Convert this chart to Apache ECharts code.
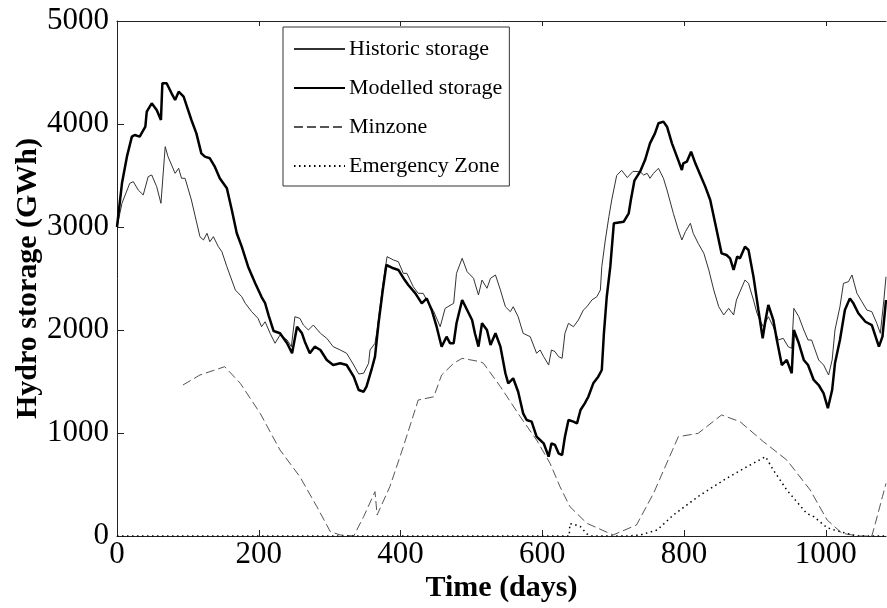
<!DOCTYPE html>
<html>
<head>
<meta charset="utf-8">
<script src="https://cdn.jsdelivr.net/npm/echarts@6/dist/echarts.min.js"></script>
<style>
  html, body { margin: 0; padding: 0; background: #fff; }
  #chart { width: 887px; height: 608px; }
</style>
</head>
<body>
<div id="chart"></div>
<script>
// x ticks (days) and y ticks (GWh)
var xTicks = [0, 200, 400, 600, 800, 1000];
var yTicks = [0, 1000, 2000, 3000, 4000, 5000];

// Historic storage
var historicDays = [0, 7, 18, 23, 30, 37, 44, 49, 56, 62, 68, 72, 82, 87, 91, 96, 105, 117, 122, 127, 131, 136, 143, 148, 155, 167, 176, 181, 190, 199, 204, 209, 216, 223, 230, 240, 246, 251, 258, 263, 270, 277, 287, 296, 305, 315, 324, 334, 341, 348, 355, 357, 364, 367, 374, 381, 390, 397, 404, 409, 418, 425, 432, 437, 447, 456, 463, 475, 479, 487, 494, 503, 510, 515, 522, 527, 534, 541, 548, 555, 559, 566, 573, 583, 592, 597, 602, 609, 613, 618, 623, 628, 632, 637, 644, 651, 658, 663, 670, 677, 682, 684, 689, 694, 698, 705, 712, 720, 728, 738, 743, 748, 752, 757, 764, 771, 776, 785, 792, 797, 802, 809, 813, 820, 828, 835, 842, 849, 856, 863, 870, 874, 879, 886, 891, 898, 903, 907, 912, 919, 926, 933, 940, 947, 952, 955, 962, 969, 975, 980, 990, 997, 1004, 1009, 1013, 1020, 1025, 1032, 1037, 1044, 1051, 1058, 1065, 1072, 1077, 1082, 1085];
var historicValues = [3000, 3230, 3424, 3440, 3359, 3311, 3489, 3505, 3391, 3230, 3780, 3683, 3521, 3570, 3473, 3473, 3262, 2906, 2874, 2939, 2857, 2906, 2809, 2760, 2615, 2388, 2323, 2259, 2178, 2113, 2032, 2080, 1968, 1871, 1951, 1903, 1838, 2129, 2113, 2048, 2000, 2048, 1968, 1919, 1838, 1806, 1774, 1660, 1573, 1580, 1677, 1806, 1871, 2000, 2388, 2712, 2680, 2663, 2550, 2550, 2420, 2356, 2356, 2291, 2178, 2032, 2210, 2259, 2550, 2696, 2566, 2502, 2340, 2485, 2405, 2502, 2534, 2388, 2226, 2178, 2226, 2129, 1968, 1935, 1774, 1806, 1741, 1660, 1806, 1790, 1741, 1725, 1968, 2065, 2032, 2097, 2194, 2226, 2291, 2323, 2388, 2615, 2874, 3100, 3262, 3500, 3550, 3480, 3540, 3537, 3505, 3521, 3473, 3521, 3570, 3473, 3359, 3132, 2971, 2874, 2955, 3036, 2939, 2842, 2744, 2583, 2388, 2226, 2146, 2210, 2146, 2291, 2372, 2485, 2453, 2291, 2162, 2097, 2032, 2129, 2032, 1903, 1919, 1838, 1822, 2210, 2129, 2000, 1903, 1903, 1709, 1660, 1563, 1709, 2000, 2226, 2453, 2469, 2534, 2356, 2275, 2194, 2178, 2065, 1968, 2291, 2517];

// Modelled storage
var modelledDays = [0, 7, 14, 21, 25, 32, 40, 42, 49, 56, 62, 64, 70, 77, 82, 87, 94, 98, 105, 112, 119, 124, 131, 138, 145, 155, 162, 169, 176, 185, 195, 204, 209, 214, 221, 230, 240, 247, 254, 261, 265, 272, 279, 287, 296, 305, 315, 324, 334, 341, 348, 352, 359, 364, 369, 375, 380, 390, 397, 406, 411, 421, 430, 437, 444, 451, 458, 465, 470, 475, 479, 487, 494, 501, 505, 510, 515, 522, 527, 534, 541, 548, 552, 559, 566, 573, 578, 585, 592, 597, 602, 609, 613, 618, 623, 628, 632, 637, 644, 649, 654, 660, 665, 672, 679, 684, 687, 691, 696, 701, 715, 722, 725, 730, 738, 745, 752, 759, 764, 771, 776, 783, 790, 797, 799, 804, 810, 816, 823, 830, 837, 844, 853, 860, 865, 870, 875, 879, 886, 891, 898, 905, 911, 915, 919, 926, 931, 938, 945, 952, 955, 962, 969, 975, 983, 990, 997, 1003, 1009, 1013, 1020, 1027, 1034, 1039, 1046, 1056, 1065, 1075, 1080, 1085];
var modelledValues = [3000, 3424, 3683, 3877, 3893, 3877, 3974, 4120, 4201, 4136, 4039, 4395, 4395, 4298, 4233, 4314, 4265, 4184, 4039, 3909, 3715, 3683, 3667, 3586, 3473, 3376, 3165, 2939, 2809, 2615, 2453, 2320, 2260, 2140, 1990, 1968, 1871, 1774, 2032, 1968, 1887, 1774, 1838, 1806, 1709, 1660, 1677, 1660, 1547, 1417, 1401, 1450, 1612, 1741, 2065, 2388, 2631, 2599, 2583, 2485, 2437, 2356, 2259, 2307, 2194, 2032, 1838, 1935, 1871, 1871, 2065, 2291, 2194, 2097, 1968, 1838, 2065, 2000, 1854, 1968, 1838, 1580, 1482, 1531, 1401, 1191, 1126, 1110, 964, 932, 900, 770, 900, 884, 803, 786, 964, 1126, 1110, 1094, 1223, 1288, 1352, 1482, 1547, 1612, 1968, 2323, 2615, 3036, 3052, 3133, 3262, 3450, 3537, 3650, 3812, 3909, 4007, 4023, 3974, 3812, 3683, 3553, 3618, 3634, 3731, 3618, 3505, 3392, 3262, 3036, 2744, 2728, 2696, 2583, 2712, 2696, 2809, 2777, 2518, 2194, 1919, 2097, 2243, 2097, 1903, 1660, 1709, 1580, 2000, 1871, 1709, 1660, 1515, 1466, 1385, 1240, 1417, 1677, 1903, 2194, 2307, 2259, 2162, 2080, 2048, 1838, 1935, 2291];

// Minzone
var minzoneDays = [93, 117, 152, 174, 202, 230, 258, 282, 301, 315, 334, 348, 364, 367, 385, 404, 425, 447, 458, 475, 487, 512, 517, 541, 569, 592, 611, 625, 639, 663, 700, 733, 757, 792, 820, 853, 879, 912, 945, 978, 1002, 1023, 1046, 1065, 1070, 1080, 1085];
var minzoneValues = [1466, 1563, 1644, 1482, 1191, 835, 576, 285, 42, 10, 0, 188, 430, 204, 479, 867, 1320, 1352, 1563, 1677, 1725, 1693, 1677, 1450, 1158, 932, 706, 479, 285, 123, 10, 107, 414, 964, 997, 1175, 1110, 916, 738, 447, 155, 26, 0, 0, 123, 382, 511];

// Emergency Zone
var emergencyDays = [0, 638, 639, 646, 654, 663, 670, 720, 738, 762, 785, 823, 860, 889, 915, 926, 945, 973, 983, 1002, 1020, 1039, 1045, 1085];
var emergencyValues = [0, 0, 120, 110, 90, 20, 0, 0, 10, 58, 204, 398, 560, 673, 770, 641, 447, 220, 188, 80, 42, 10, 0, 0];

function pairs(days, values) {
    return days.map(function (d, i) { return [d, values[i]]; });
}

var serif = 'Liberation Serif';
var axisColor = '#222';

var myChart = echarts.init(document.getElementById('chart'));
myChart.setOption({
    animation: false,
    backgroundColor: '#fff',
    grid: {
        left: 117,
        top: 21,
        right: 1,
        bottom: 72,
        containLabel: false,
        outerBoundsMode: 'none'
    },
    legend: {
        data: ['Historic storage', 'Modelled storage', 'Minzone', 'Emergency Zone'],
        orient: 'vertical',
        left: 283,
        top: 27,
        padding: [11, 7, 9, 10],
        itemWidth: 51,
        itemHeight: 16,
        itemGap: 17,
        borderColor: '#333',
        borderWidth: 1,
        backgroundColor: '#fff',
        itemStyle: { opacity: 0 },
        textStyle: {
            fontFamily: serif,
            fontSize: 22,
            color: '#000',
            padding: [0, 0, 0, -1]
        }
    },
    xAxis: [{
        type: 'value',
        min: 0,
        max: 1085,
        interval: 200,
        position: 'bottom',
        name: 'Time (days)',
        nameLocation: 'middle',
        nameGap: 37,
        nameMoveOverlap: false,
        nameTextStyle: {
            fontFamily: serif,
            fontSize: 30,
            fontWeight: 'bold',
            color: '#000'
        },
        axisLine: { show: true, onZero: false, lineStyle: { color: axisColor, width: 1 } },
        axisTick: { show: true, inside: true, length: 6, customValues: xTicks, lineStyle: { color: axisColor } },
        axisLabel: {
            customValues: xTicks,
            margin: 3,
            fontFamily: serif,
            fontSize: 31,
            color: '#000',
            formatter: function (v) { return String(v); }
        },
        splitLine: { show: false }
    }, {
        type: 'value',
        min: 0,
        max: 1085,
        interval: 200,
        position: 'top',
        axisLine: { show: true, onZero: false, lineStyle: { color: axisColor, width: 1 } },
        axisTick: { show: true, inside: true, length: 5, customValues: xTicks, lineStyle: { color: axisColor } },
        axisLabel: { show: false },
        splitLine: { show: false }
    }],
    yAxis: {
        type: 'value',
        min: 0,
        max: 5000,
        interval: 1000,
        name: 'Hydro storage (GWh)',
        nameLocation: 'middle',
        nameGap: 74,
        nameMoveOverlap: false,
        nameTextStyle: {
            fontFamily: serif,
            fontSize: 30,
            fontWeight: 'bold',
            color: '#000'
        },
        axisLine: { show: true, lineStyle: { color: axisColor, width: 1 } },
        axisTick: { show: true, inside: true, length: 7, lineStyle: { color: axisColor } },
        axisLabel: {
            customValues: yTicks,
            margin: 8,
            fontFamily: serif,
            fontSize: 31,
            color: '#000',
            formatter: function (v) { return String(v); }
        },
        splitLine: { show: false }
    },
    series: [
        {
            name: 'Minzone',
            type: 'line',
            data: pairs(minzoneDays, minzoneValues),
            showSymbol: false,
            symbol: 'none',
            lineStyle: { color: '#555', width: 1, type: [9, 4] },
            itemStyle: { color: '#555' },
            z: 2
        },
        {
            name: 'Emergency Zone',
            type: 'line',
            data: pairs(emergencyDays, emergencyValues),
            showSymbol: false,
            symbol: 'none',
            lineStyle: { color: '#000', width: 1.5, type: [1.5, 3.5] },
            itemStyle: { color: '#000' },
            z: 2
        },
        {
            name: 'Historic storage',
            type: 'line',
            data: pairs(historicDays, historicValues),
            showSymbol: false,
            symbol: 'none',
            lineStyle: { color: '#333', width: 1 },
            itemStyle: { color: '#333' },
            z: 3
        },
        {
            name: 'Modelled storage',
            type: 'line',
            data: pairs(modelledDays, modelledValues),
            showSymbol: false,
            symbol: 'none',
            lineStyle: { color: '#000', width: 2.5 },
            itemStyle: { color: '#000' },
            z: 4
        }
    ]
});
</script>
</body>
</html>
